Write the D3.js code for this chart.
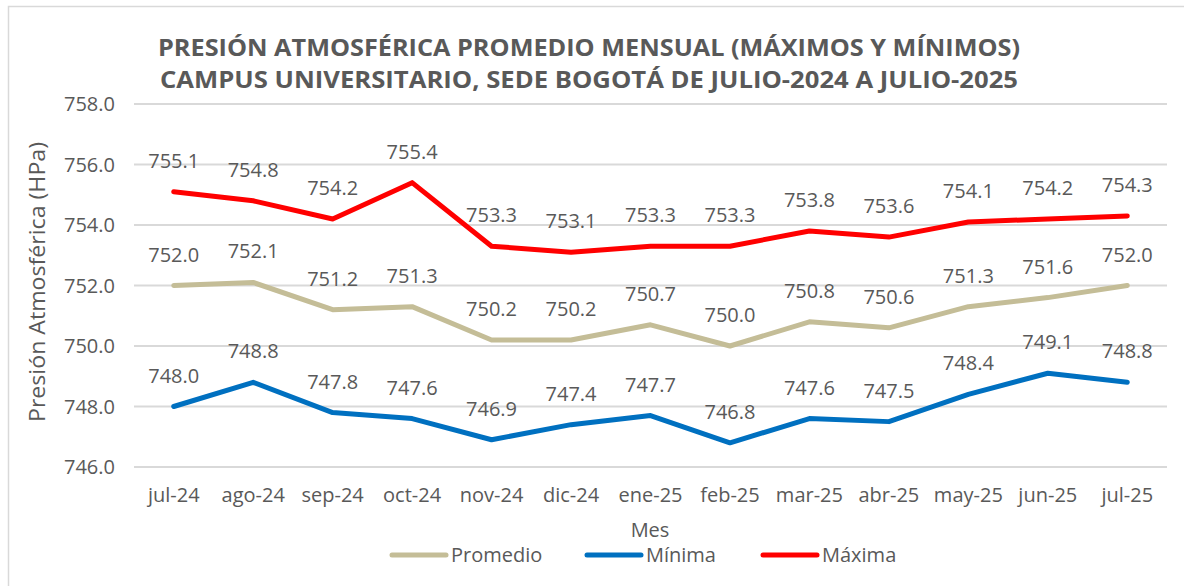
<!DOCTYPE html>
<html>
<head>
<meta charset="utf-8">
<script src="https://cdn.jsdelivr.net/npm/d3@7"></script>
<style>
  body { margin: 0; background: #fff; }
  text { font-family: "Open Sans", "Noto Sans", sans-serif; fill: #595959; }
</style>
</head>
<body>
<div id="chart"></div>
<script>
// Data
let months = ["jul-24", "ago-24", "sep-24", "oct-24", "nov-24", "dic-24", "ene-25",
    "feb-25", "mar-25", "abr-25", "may-25", "jun-25", "jul-25"];
let promedio = [752.0, 752.1, 751.2, 751.3, 750.2, 750.2, 750.7, 750.0, 750.8, 750.6, 751.3, 751.6, 752.0];
let minima = [748.0, 748.8, 747.8, 747.6, 746.9, 747.4, 747.7, 746.8, 747.6, 747.5, 748.4, 749.1, 748.8];
let maxima = [755.1, 754.8, 754.2, 755.4, 753.3, 753.1, 753.3, 753.3, 753.8, 753.6, 754.1, 754.2, 754.3];
let yTicks = [746, 748, 750, 752, 754, 756, 758];

let width = 1184;
let height = 586;
let plotLeft = 134;
let plotRight = 1167;
let plotTop = 104;
let plotBot = 467;

let svg = d3.select("#chart").append("svg")
    .attr("width", width)
    .attr("height", height);

// outer border
svg.append("rect")
    .attr("x", 8.5).attr("y", 6.5)
    .attr("width", 1200).attr("height", 600)
    .attr("fill", "none")
    .attr("stroke", "#d9d9d9")
    .attr("stroke-width", 1.5);

// Title
let title = svg.append("text")
    .attr("text-anchor", "middle")
    .attr("font-weight", "bold")
    .attr("font-size", 24);
title.append("tspan").attr("x", 589).attr("y", 56)
    .attr("textLength", 862).attr("lengthAdjust", "spacingAndGlyphs")
    .text("PRESIÓN ATMOSFÉRICA PROMEDIO MENSUAL (MÁXIMOS Y MÍNIMOS)");
title.append("tspan").attr("x", 589).attr("y", 88)
    .attr("textLength", 858).attr("lengthAdjust", "spacingAndGlyphs")
    .text("CAMPUS UNIVERSITARIO, SEDE BOGOTÁ DE JULIO-2024 A JULIO-2025");

// Scales
let xScale = d3.scaleBand().domain(months).range([plotLeft, plotRight]);
let yScale = d3.scaleLinear().domain([746, 758]).range([plotBot, plotTop]);
let xc = function(d) { return xScale(d) + xScale.bandwidth() / 2; };

// Gridlines
svg.append("g").selectAll("line").data(yTicks).enter()
    .append("line")
    .attr("x1", plotLeft).attr("x2", plotRight)
    .attr("y1", function(d) { return yScale(d); })
    .attr("y2", function(d) { return yScale(d); })
    .attr("stroke", "#d9d9d9")
    .attr("stroke-width", 2);

// Y tick labels
svg.append("g").selectAll("text").data(yTicks).enter()
    .append("text")
    .attr("x", 115)
    .attr("y", function(d) { return yScale(d) + 7; })
    .attr("text-anchor", "end")
    .attr("font-size", 20)
    .text(function(d) { return d.toFixed(1); });

// X tick labels
svg.append("g").selectAll("text").data(months).enter()
    .append("text")
    .attr("x", function(d) { return xc(d); })
    .attr("y", 502)
    .attr("text-anchor", "middle")
    .attr("font-size", 20)
    .text(function(d) { return d; });

// Axis titles
svg.append("text")
    .attr("x", 650).attr("y", 537)
    .attr("text-anchor", "middle")
    .attr("font-size", 20)
    .text("Mes");
svg.append("text")
    .attr("transform", "translate(45, 282)rotate(-90)")
    .attr("text-anchor", "middle")
    .attr("font-size", 22)
    .attr("textLength", 280).attr("lengthAdjust", "spacingAndGlyphs")
    .text("Presión Atmosférica (HPa)");

// Series
let series = [
    { name: "Promedio", values: promedio, color: "#C4BD97" },
    { name: "Mínima", values: minima, color: "#0070C0" },
    { name: "Máxima", values: maxima, color: "#FF0000" }
];

let line = d3.line()
    .x(function(d, i) { return xc(months[i]); })
    .y(function(d) { return yScale(d); });

series.forEach(function(s) {
    svg.append("path")
        .datum(s.values)
        .attr("d", line)
        .attr("fill", "none")
        .attr("stroke", s.color)
        .attr("stroke-width", 5)
        .attr("stroke-linejoin", "round")
        .attr("stroke-linecap", "round");
});

// Data labels above points
series.forEach(function(s) {
    svg.append("g").selectAll("text").data(s.values).enter()
        .append("text")
        .attr("x", function(d, i) { return xc(months[i]); })
        .attr("y", function(d) { return yScale(d) - 24; })
        .attr("text-anchor", "middle")
        .attr("font-size", 20)
        .text(function(d) { return d.toFixed(1); });
});

// Legend
let legendPos = [392, 587, 763];
let legend = svg.append("g").selectAll("g").data(series).enter()
    .append("g")
    .attr("transform", function(d, i) { return "translate(" + legendPos[i] + ",555)"; });
legend.append("line")
    .attr("x1", 0).attr("x2", 54)
    .attr("y1", 0).attr("y2", 0)
    .attr("stroke", function(d) { return d.color; })
    .attr("stroke-width", 5)
    .attr("stroke-linecap", "round");
legend.append("text")
    .attr("x", 59).attr("y", 7)
    .attr("font-size", 20)
    .text(function(d) { return d.name; });
</script>
</body>
</html>
